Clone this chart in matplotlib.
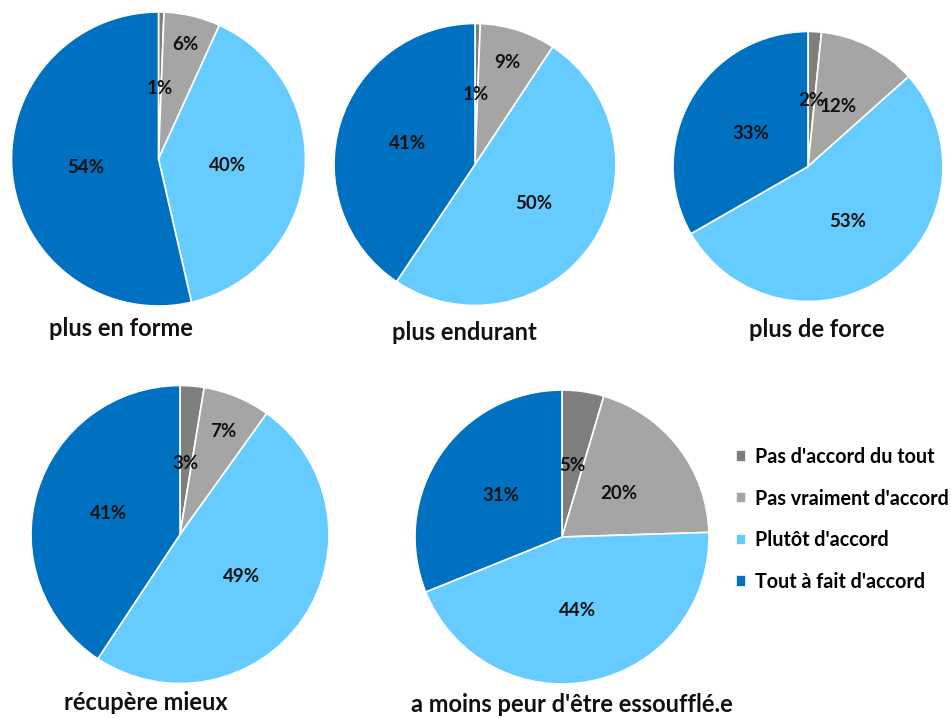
import numpy as np
import matplotlib
matplotlib.use('Agg')
import matplotlib.pyplot as plt

plt.rcParams['font.family'] = ['Lato', 'DejaVu Sans']
plt.rcParams['font.weight'] = 'bold'

# answer categories (legend order)
categories = ["Pas d'accord du tout", "Pas vraiment d'accord",
              "Plutôt d'accord", "Tout à fait d'accord"]
colors = ['#7f7f7f', '#a5a5a5', '#66ccff', '#0070c0']

# shares (percent)
forme = [0.6, 6.2, 39.6, 53.6]
endurant = [0.6, 8.7, 50.1, 40.6]
force = [1.6, 11.8, 53.3, 33.3]
recupere = [2.6, 7.3, 49.4, 40.7]
essouffle = [4.6, 19.9, 44.4, 31.1]

titles = ['plus en forme', 'plus endurant', 'plus de force',
          'récupère mieux', "a moins peur d'être essoufflé.e"]
series = [forme, endurant, force, recupere, essouffle]

# layout in pixels: pie centre x, y, radius, title x, title y
W, H = 951, 718
pies = [(158.5, 159, 147, 121, 328),
        (475, 164.5, 141, 464, 333),
        (808, 166.5, 135, 817, 330),
        (180, 534.5, 149, 146, 703),
        (562, 537, 147, 572, 705)]
# radial position of the % labels (fraction of radius)
lab_r = [[0.48, 0.8, 0.47, 0.5],
         [0.5, 0.76, 0.5, 0.5],
         [0.49, 0.5, 0.5, 0.49],
         [0.48, 0.75, 0.5, 0.5],
         [0.49, 0.49, 0.51, 0.5]]

fig = plt.figure(figsize=(W / 100, H / 100), dpi=100)

for k, vals in enumerate(series):
    cx, cy, r, tx, ty = pies[k]
    ax = fig.add_axes([(cx - r) / W, (H - cy - r) / H, 2 * r / W, 2 * r / H])
    wedges, _ = ax.pie(vals, colors=colors, startangle=90, counterclock=False,
                       wedgeprops=dict(edgecolor='white', linewidth=1.2))
    ax.set_xlim(-1, 1)
    ax.set_ylim(-1, 1)
    for i, w in enumerate(wedges):
        ang = np.deg2rad((w.theta1 + w.theta2) / 2)
        rr = lab_r[k][i]
        ax.text(rr * np.cos(ang), rr * np.sin(ang), '%d%%' % round(vals[i]),
                ha='center', va='center', fontsize=13.5, fontweight='bold',
                color='#111111')
    fig.text(tx / W, 1 - ty / H, titles[k], ha='center', va='center',
             fontsize=17, fontweight='bold', color='#111111')
    if k == 0:
        handles = wedges

fig.legend(handles, categories, loc='upper left',
           bbox_to_anchor=(728 / W, 1 - 439 / H), frameon=False,
           handlelength=0.5, handleheight=0.5,
           handletextpad=0.45, labelspacing=1.1, borderaxespad=0,
           prop={'weight': 'bold', 'size': 14.2})

fig.savefig('out.png', dpi=100)
